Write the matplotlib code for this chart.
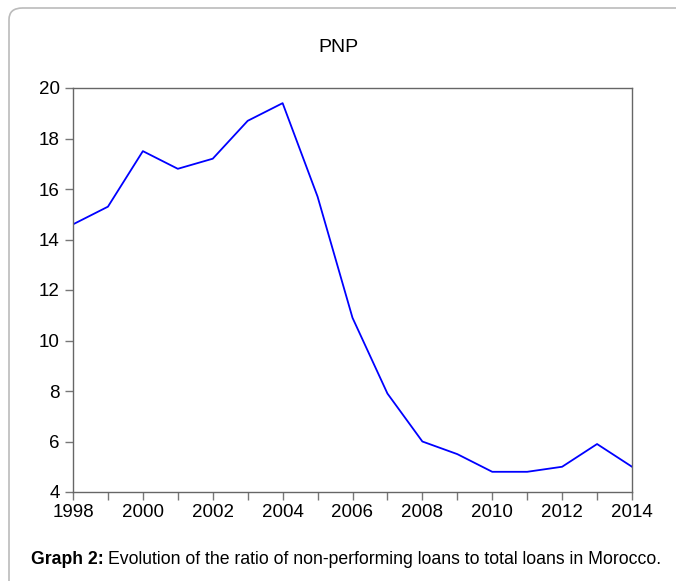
import matplotlib
matplotlib.use("Agg")
import matplotlib.pyplot as plt
from matplotlib.patches import FancyBboxPatch

plt.rcParams['font.family'] = ['Liberation Sans', 'DejaVu Sans']

# Data
years = [1998, 1999, 2000, 2001, 2002, 2003, 2004, 2005, 2006, 2007,
         2008, 2009, 2010, 2011, 2012, 2013, 2014]
pnp = [14.6, 15.3, 17.5, 16.8, 17.2, 18.7, 19.4, 15.7, 10.9, 7.9,
       6.0, 5.5, 4.8, 4.8, 5.0, 5.9, 5.0]
yticks = [4, 6, 8, 10, 12, 14, 16, 18, 20]
xlabels = [1998, 2000, 2002, 2004, 2006, 2008, 2010, 2012, 2014]

W, H = 676, 581
fig = plt.figure(figsize=(W / 100, H / 100), dpi=100)

# rounded frame around the figure (right and bottom run off the page)
frame = FancyBboxPatch((9 / W, -0.1), 1.2, 1.1 - 8 / H,
                       boxstyle="round,pad=0,rounding_size=0.02",
                       transform=fig.transFigure, facecolor='none',
                       edgecolor='#bbbbbb', linewidth=1.2)
fig.patches.append(frame)

ax = fig.add_axes([73 / W, 1 - 492 / H, (632 - 73) / W, (492 - 88) / H])
ax.plot(years, pnp, color='#0000ff', linewidth=1.3)

ax.set_xlim(1998, 2014)
ax.set_ylim(4, 20)
ax.set_yticks(yticks)
ax.set_xticks(years)
ax.set_xticklabels([str(y) if y in xlabels else '' for y in years])
ax.tick_params(direction='out', length=6, width=1, color='#777777',
               labelsize=13.5)
ax.tick_params(axis='x', pad=2.5)
ax.tick_params(axis='y', pad=3.5)
for s in ax.spines.values():
    s.set_color('#666666')
    s.set_linewidth(1)

fig.text(0.5, 1 - 52.5 / H, 'PNP', ha='center', va='baseline', fontsize=14)

# caption: bold prefix followed by regular text
t1 = fig.text(31 / W, 1 - 564 / H, 'Graph 2:', ha='left', va='baseline',
              fontsize=12.7, fontweight='bold')
fig.canvas.draw()
bb = t1.get_window_extent()
fig.text((bb.x1 + 4) / W, 1 - 564 / H,
         'Evolution of the ratio of non-performing loans to total loans in Morocco.',
         ha='left', va='baseline', fontsize=12.7)

fig.savefig('out.png', dpi=100)
